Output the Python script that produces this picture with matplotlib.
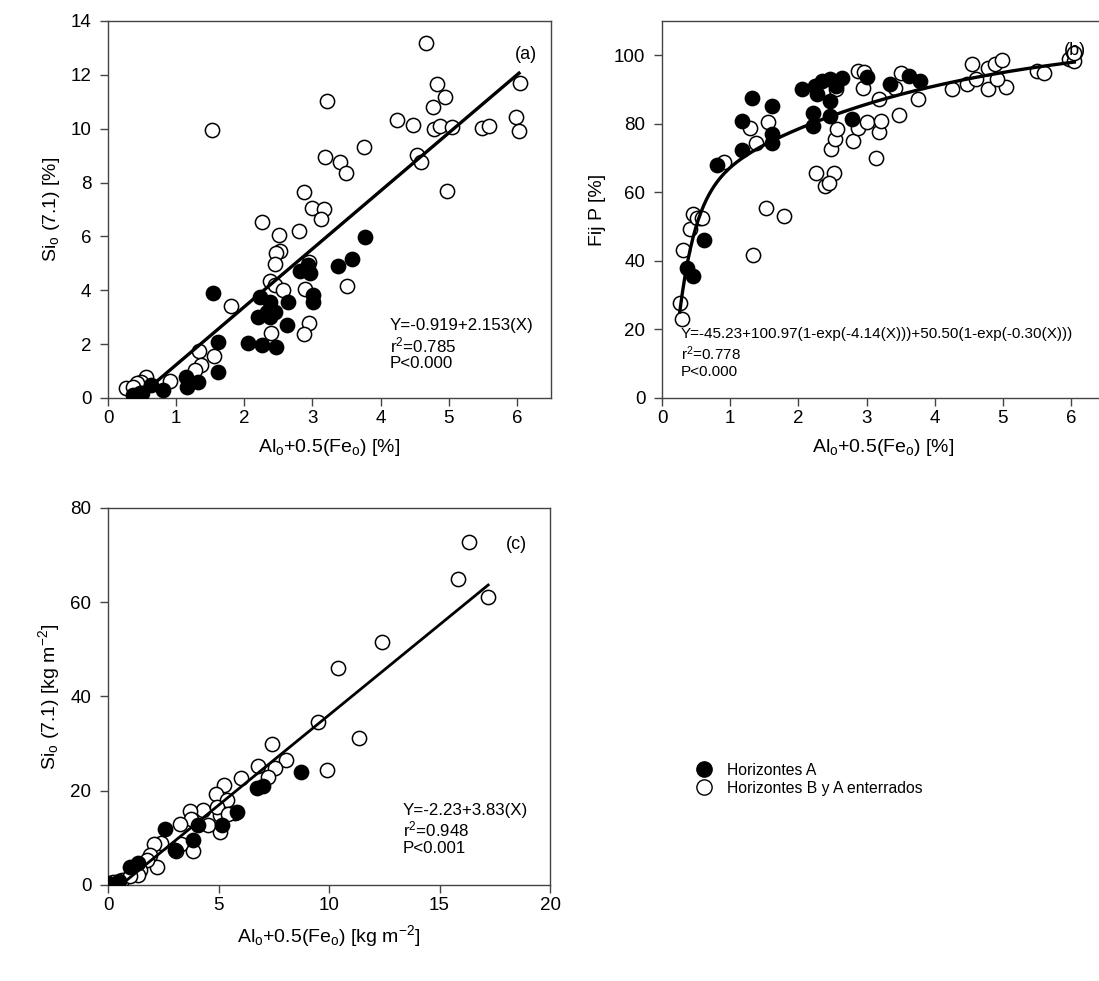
import numpy as np
import matplotlib
matplotlib.use("Agg")
import matplotlib.pyplot as plt
from matplotlib.lines import Line2D

plt.rcParams['font.family'] = ['Liberation Sans', 'DejaVu Sans']
plt.rcParams['mathtext.fontset'] = 'custom'
plt.rcParams['mathtext.rm'] = 'Liberation Sans'
plt.rcParams['mathtext.it'] = 'Liberation Sans'
plt.rcParams['mathtext.default'] = 'regular'

# ---------------- Panel (a): Alo+0.5Feo [%] vs Sio [%] ----------------
a_A_x = [3.77, 3.58, 3.37, 2.81, 2.96, 2.94, 3.01, 3.01, 1.54, 2.23, 2.38, 2.64, 2.20, 2.33,
         2.45, 2.38, 2.62, 2.06, 2.26, 2.46, 1.61, 1.61, 1.14, 1.32, 1.16, 0.81, 0.63, 0.47,
         0.37, 0.50]
a_A_y = [5.99, 5.16, 4.91, 4.72, 4.65, 4.94, 3.58, 3.82, 3.91, 3.76, 3.58, 3.58, 3.02, 3.20,
         3.20, 3.02, 2.71, 2.05, 1.97, 1.91, 2.09, 0.95, 0.79, 0.61, 0.40, 0.30, 0.48, 0.17,
         0.12, 0.20]
a_B_x = [4.66, 4.82, 4.94, 4.77, 6.05, 3.21, 1.53, 4.24, 4.48, 4.79, 4.87, 5.04, 5.49, 5.59,
         5.98, 6.03, 3.76, 3.19, 3.41, 3.49, 4.54, 4.59, 4.98, 2.87, 3.00, 3.17, 3.13, 2.26,
         2.51, 2.80, 2.52, 2.47, 2.45, 2.95, 2.37, 2.45, 2.56, 2.89, 3.50, 1.80, 2.95, 2.87,
         2.39, 1.33, 1.56, 1.37, 1.28, 0.91, 0.56, 0.49, 0.42, 0.26, 0.37]
a_B_y = [13.2, 11.66, 11.19, 10.82, 11.71, 11.04, 9.95, 10.32, 10.14, 9.98, 10.10, 10.05, 10.01,
         10.10, 10.45, 9.93, 9.33, 8.94, 8.78, 8.34, 9.02, 8.75, 7.70, 7.64, 7.04, 7.00, 6.65,
         6.55, 6.05, 6.21, 5.47, 5.37, 4.98, 5.04, 4.36, 4.20, 4.01, 4.04, 4.17, 3.43, 2.80,
         2.36, 2.43, 1.76, 1.56, 1.23, 1.04, 0.64, 0.79, 0.61, 0.54, 0.38, 0.42]
a_fit = (-0.919, 2.153)
a_fit_range = (0.43, 6.03)

# ---------------- Panel (b): Alo+0.5Feo [%] vs Fij P [%] ----------------
b_A_x = [0.61, 0.36, 0.45, 0.80, 1.17, 1.17, 1.32, 1.61, 1.61, 1.61, 2.05, 2.21, 2.22, 2.25,
         2.27, 2.47, 2.64, 2.46, 2.46, 2.79, 3.01, 3.35, 3.62, 3.79, 2.35, 2.55]
b_A_y = [46.2, 37.9, 35.5, 67.9, 72.5, 80.8, 87.6, 85.2, 76.9, 74.5, 90.3, 83.2, 79.5, 91.0,
         88.6, 93.0, 93.5, 82.3, 86.6, 81.5, 93.7, 91.5, 94.0, 92.5, 92.5, 91.0]
b_B_x = [0.26, 0.29, 0.31, 0.41, 0.46, 0.56, 0.51, 0.59, 1.33, 1.53, 1.79, 0.91, 1.29, 1.38,
         1.56, 2.26, 2.52, 2.39, 2.45, 2.48, 2.54, 2.57, 2.80, 2.88, 3.00, 3.14, 3.19, 3.21,
         3.48, 2.88, 2.96, 2.95, 3.18, 3.42, 3.50, 3.76, 2.38, 2.55, 4.25, 4.48, 4.55, 4.79,
         4.89, 4.99, 4.60, 4.78, 5.04, 4.91, 5.50, 5.60, 5.97, 6.05, 6.04]
b_B_y = [27.7, 23.0, 43.1, 49.3, 53.8, 52.5, 52.5, 52.5, 41.6, 55.5, 53.2, 68.9, 78.9, 74.5,
         80.5, 65.7, 65.7, 61.8, 62.8, 72.7, 75.6, 78.4, 75.0, 78.9, 80.5, 70.1, 77.6, 80.8,
         82.5, 95.4, 95.1, 90.5, 87.3, 90.5, 94.9, 87.1, 90.1, 90.3, 90.1, 91.5, 97.4, 96.4,
         97.4, 98.5, 93.0, 90.1, 90.8, 93.0, 95.4, 94.7, 98.8, 98.3, 100.8]
b_fit = (-45.23, 100.97, 4.14, 50.50, 0.30)
b_fit_range = (0.26, 6.05)

# ---------------- Panel (c): Alo+0.5Feo [kg m-2] vs Sio [kg m-2] ----------------
c_A_x = [8.72, 2.58, 3.83, 4.09, 5.82, 5.14, 6.73, 7.03, 3.03, 1.00, 1.37, 0.01, 0.10, 0.50]
c_A_y = [23.9, 11.8, 9.5, 12.7, 15.5, 12.7, 20.5, 20.9, 7.4, 3.9, 4.6, 0.36, 0.10, 0.8]
c_B_x = [16.33, 15.85, 17.18, 12.38, 10.41, 9.49, 11.37, 7.44, 9.89, 8.04, 7.56, 7.25, 6.80,
         6.02, 5.25, 4.89, 5.37, 5.75, 5.07, 5.07, 4.28, 3.71, 3.76, 4.54, 3.26, 3.30, 3.86,
         3.06, 2.40, 2.08, 1.90, 2.20, 1.75, 1.45, 1.37, 0.62, 0.24, 1.00, 0.47, 4.95, 5.45]
c_B_y = [72.7, 65.0, 61.1, 51.5, 46.1, 34.5, 31.1, 29.9, 24.4, 26.5, 24.9, 22.9, 25.2, 22.7,
         21.3, 19.3, 18.0, 15.2, 14.8, 11.2, 15.9, 15.8, 14.1, 12.7, 12.9, 8.7, 7.3, 7.2, 8.8,
         8.7, 6.4, 3.9, 5.3, 3.2, 2.1, 1.06, 0.70, 1.8, 0.36, 16.5, 15.0]
c_fit = (-2.23, 3.83)
c_fit_range = (0.58, 17.2)

fig = plt.figure(figsize=(10.99, 9.81), dpi=100)
axw = 0.4031
axa = fig.add_axes([0.0983, 0.5943, axw, 0.3843])
axb = fig.add_axes([0.6024, 0.5943, axw, 0.3843])
axc = fig.add_axes([0.0983, 0.0979, 0.4022, 0.3843])

ms = 105
ew = 1.1
lab_fs = 14
tick_fs = 13.5
ann_fs = 12.2
ann_fs_b = 11
tag_fs = 13


def style(ax):
    for s in ax.spines.values():
        s.set_color('#444444')
        s.set_linewidth(1.0)
    ax.tick_params(direction='out', length=6, width=1, colors='#444444',
                   labelcolor='black', labelsize=tick_fs)
    ax.tick_params(axis='x', pad=2.5)
    ax.tick_params(axis='y', pad=6)


def pts(ax, xA, yA, xB, yB):
    ax.scatter(xB, yB, s=ms, facecolor='white', edgecolor='black', linewidth=ew, zorder=3)
    ax.scatter(xA, yA, s=ms, facecolor='black', edgecolor='black', linewidth=ew, zorder=3)


# (a)
pts(axa, a_A_x, a_A_y, a_B_x, a_B_y)
xx = np.linspace(*a_fit_range, 50)
axa.plot(xx, a_fit[0] + a_fit[1] * xx, color='black', lw=2.4, zorder=4)
axa.set_xlim(0, 6.5)
axa.set_ylim(0, 14)
axa.set_xticks(range(0, 7))
axa.set_yticks(range(0, 15, 2))
axa.set_xlabel('Al$_o$+0.5(Fe$_o$) [%]', fontsize=lab_fs, labelpad=7)
axa.set_ylabel('Si$_o$ (7.1) [%]', fontsize=lab_fs, labelpad=6)
axa.text(5.97, 12.75, '(a)', fontsize=tag_fs, ha='left', va='center')
axa.text(4.13, 2.70, 'Y=-0.919+2.153(X)', fontsize=ann_fs, va='center')
axa.text(4.13, 1.95, 'r$^{2}$=0.785', fontsize=ann_fs, va='center')
axa.text(4.13, 1.27, 'P<0.000', fontsize=ann_fs, va='center')
style(axa)

# (b)
pts(axb, b_A_x, b_A_y, b_B_x, b_B_y)
xx = np.linspace(*b_fit_range, 300)
y0, a1, k1, a2, k2 = b_fit
axb.plot(xx, y0 + a1 * (1 - np.exp(-k1 * xx)) + a2 * (1 - np.exp(-k2 * xx)),
         color='black', lw=2.4, zorder=4)
axb.set_xlim(0, 6.5)
axb.set_ylim(0, 110)
axb.set_xticks(range(0, 7))
axb.set_yticks(range(0, 101, 20))
axb.set_xlabel('Al$_o$+0.5(Fe$_o$) [%]', fontsize=lab_fs, labelpad=7)
axb.set_ylabel('Fij P [%]', fontsize=lab_fs, labelpad=6)
axb.text(5.9, 101.5, '(b)', fontsize=tag_fs, ha='left', va='center')
axb.text(0.28, 18.8, 'Y=-45.23+100.97(1-exp(-4.14(X)))+50.50(1-exp(-0.30(X)))',
         fontsize=ann_fs_b, va='center')
axb.text(0.28, 12.8, 'r$^{2}$=0.778', fontsize=ann_fs_b, va='center')
axb.text(0.28, 7.6, 'P<0.000', fontsize=ann_fs_b, va='center')
style(axb)

# (c)
pts(axc, c_A_x, c_A_y, c_B_x, c_B_y)
xx = np.linspace(*c_fit_range, 50)
axc.plot(xx, c_fit[0] + c_fit[1] * xx, color='black', lw=2.0, zorder=4)
axc.set_xlim(0, 20)
axc.set_ylim(0, 80)
axc.set_xticks(range(0, 21, 5))
axc.set_yticks(range(0, 81, 20))
axc.set_xlabel('Al$_o$+0.5(Fe$_o$) [kg m$^{-2}$]', fontsize=lab_fs, labelpad=7)
axc.set_ylabel('Si$_o$ (7.1) [kg m$^{-2}$]', fontsize=lab_fs, labelpad=6)
axc.text(18.0, 72.3, '(c)', fontsize=tag_fs, ha='left', va='center')
axc.text(13.35, 15.9, 'Y=-2.23+3.83(X)', fontsize=ann_fs, va='center')
axc.text(13.35, 11.8, 'r$^{2}$=0.948', fontsize=ann_fs, va='center')
axc.text(13.35, 7.8, 'P<0.001', fontsize=ann_fs, va='center')
style(axc)

handles = [Line2D([], [], marker='o', ls='none', markersize=11, markerfacecolor='black',
                  markeredgecolor='black'),
           Line2D([], [], marker='o', ls='none', markersize=11, markerfacecolor='white',
                  markeredgecolor='black')]
fig.legend(handles, ['Horizontes A', 'Horizontes B y A enterrados'],
           loc='upper left', bbox_to_anchor=(0.621, 0.229), frameon=False, fontsize=11.3,
           handletextpad=0.45, labelspacing=0.2, borderaxespad=0)

fig.savefig('out.png', dpi=100)
